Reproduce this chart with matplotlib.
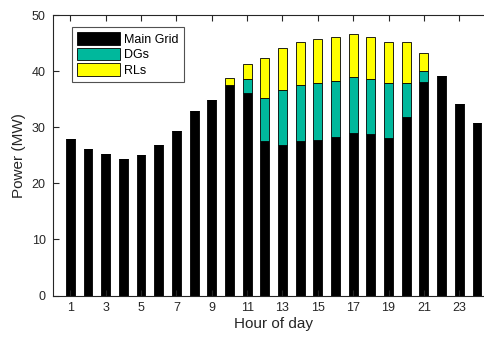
import matplotlib
matplotlib.use("Agg")
import matplotlib.pyplot as plt
import numpy as np

plt.rcParams['font.family'] = ['Liberation Sans', 'DejaVu Sans']

hours = list(range(1, 25))
main_grid = [27.9, 26.1, 25.2, 24.4, 25.0, 26.8, 29.3, 32.9, 34.9, 37.6, 36.1, 27.6,
             26.8, 27.5, 27.8, 28.2, 28.9, 28.7, 28.1, 31.8, 38.1, 39.1, 34.1, 30.7]
dgs = [0, 0, 0, 0, 0, 0, 0, 0, 0, 0, 2.5, 7.6,
       9.9, 10.0, 10.1, 10.0, 10.0, 9.9, 9.8, 6.1, 1.9, 0, 0, 0]
rls = [0, 0, 0, 0, 0, 0, 0, 0, 0, 1.1, 2.6, 7.2,
       7.5, 7.6, 7.8, 7.8, 7.7, 7.5, 7.3, 7.2, 3.2, 0, 0, 0]
xticks = list(range(1, 24, 2))
yticks = [0, 10, 20, 30, 40, 50]

fig = plt.figure(figsize=(4.85, 3.42), dpi=100)
ax = fig.add_axes([52.7/485, 1 - 295.5/342, (494.6 - 52.7)/485, (295.5 - 15)/342])

main = np.array(main_grid)
dg = np.array(dgs)
rl = np.array(rls)
w = 0.5
ax.bar(hours, main, width=w, color='black', edgecolor='black', linewidth=0.6, label='Main Grid')
ax.bar(hours, dg, width=w, bottom=main, color='#00B89C', edgecolor='black', linewidth=0.6, label='DGs')
ax.bar(hours, rl, width=w, bottom=main + dg, color='#FFFF00', edgecolor='black', linewidth=0.6, label='RLs')

ax.set_xlim(0, 25)
ax.set_ylim(0, 50)
ax.set_xticks(xticks)
ax.set_yticks(yticks)
ax.tick_params(direction='in', top=True, right=True, length=4, width=0.8,
               labelsize=9, colors='#262626', labelcolor='#262626', pad=5)
for s in ax.spines.values():
    s.set_linewidth(0.8)
    s.set_color('#262626')
ax.set_xlabel('Hour of day', fontsize=11, color='#262626', labelpad=2)
ax.set_ylabel('Power (MW)', fontsize=11, color='#262626', labelpad=4)

leg = ax.legend(loc='upper left', bbox_to_anchor=(0.044, 0.957), fontsize=9,
                frameon=True, fancybox=False, edgecolor='#262626',
                handlelength=3.4, handleheight=1.2, handletextpad=0.35,
                labelspacing=0.15, borderpad=0.4, borderaxespad=0)
leg.get_frame().set_linewidth(0.8)

fig.savefig('out.png', dpi=100)
